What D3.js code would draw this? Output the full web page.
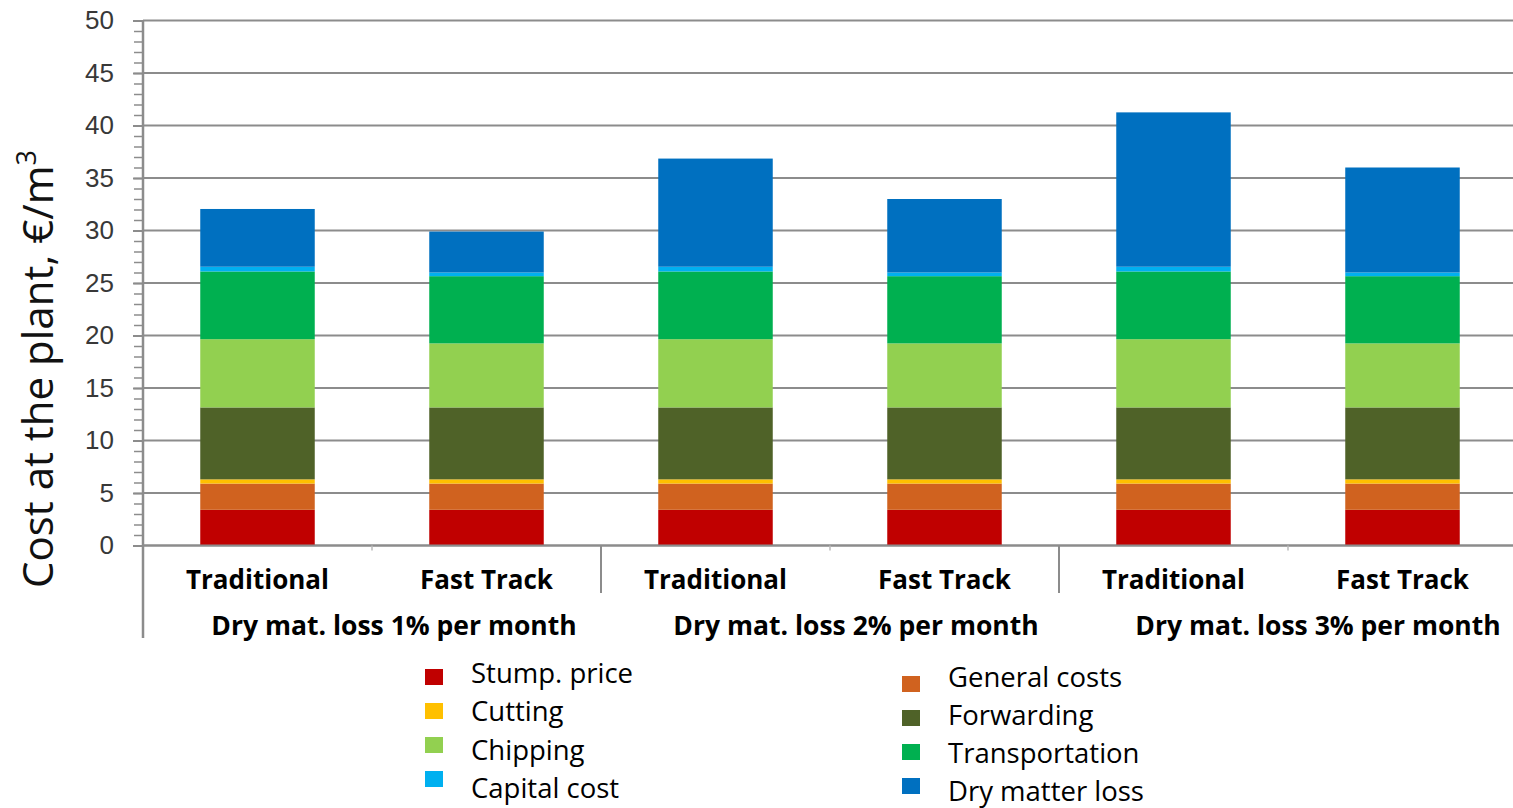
<!DOCTYPE html>
<html>
<head>
<meta charset="utf-8">
<script src="https://cdnjs.cloudflare.com/ajax/libs/d3/7.8.5/d3.min.js"></script>
<style>
  body { margin: 0; background: #fff; }
  svg { display: block; }
</style>
</head>
<body>
<script>
// categories (two scenarios per dry matter loss group)
var groups = ["Dry mat. loss 1% per month", "Dry mat. loss 2% per month", "Dry mat. loss 3% per month"];
var methods = ["Traditional", "Fast Track"];

// cost components, bottom to top of each stack
var components = ["Stump. price", "General costs", "Cutting", "Forwarding", "Chipping", "Transportation", "Capital cost", "Dry matter loss"];
var colors = ["#c00000", "#d0621f", "#ffc000", "#4f6228", "#92d050", "#00b050", "#00b0f0", "#0070c0"];

// values in €/m3, one entry per bar: T1, FT1, T2, FT2, T3, FT3
var stumpPrice     = [3.4, 3.4, 3.4, 3.4, 3.4, 3.4];
var generalCosts   = [2.5, 2.5, 2.5, 2.5, 2.5, 2.5];
var cutting        = [0.4, 0.4, 0.4, 0.4, 0.4, 0.4];
var forwarding     = [6.85, 6.85, 6.85, 6.85, 6.85, 6.85];
var chipping       = [6.5, 6.1, 6.5, 6.1, 6.5, 6.1];
var transportation = [6.45, 6.4, 6.45, 6.4, 6.45, 6.4];
var capitalCost    = [0.45, 0.35, 0.45, 0.35, 0.45, 0.35];
var dryMatterLoss  = [5.5, 3.9, 10.3, 7.0, 14.7, 10.0];

// legend layout: two columns of four
var legendCol1 = ["Stump. price", "Cutting", "Chipping", "Capital cost"];
var legendCol2 = ["General costs", "Forwarding", "Transportation", "Dry matter loss"];

var yTicks = [0, 5, 10, 15, 20, 25, 30, 35, 40, 45, 50];

var width = 1513, height = 808;
var series = [stumpPrice, generalCosts, cutting, forwarding, chipping, transportation, capitalCost, dryMatterLoss];

// build table rows for d3.stack
var bars = [];
groups.forEach(function(g, gi) {
  methods.forEach(function(m, mi) {
    var i = gi * methods.length + mi;
    var row = { id: g + "|" + m, group: g, method: m };
    components.forEach(function(c, ci) { row[c] = series[ci][i]; });
    bars.push(row);
  });
});

var stacked = d3.stack().keys(components)(bars);

var svg = d3.select("body").append("svg")
    .attr("width", width)
    .attr("height", height);

var x = d3.scaleBand()
    .domain(bars.map(function(d) { return d.id; }))
    .range([143, 1517])
    .paddingInner(0.5)
    .paddingOuter(0.25);

var y = d3.scaleLinear()
    .domain([0, 50])
    .range([545.5, 20.5]);

var grey = "#8c8c8c";

// horizontal gridlines
svg.append("g")
  .selectAll("line")
  .data(yTicks)
  .enter().append("line")
    .attr("x1", 143)
    .attr("x2", width)
    .attr("y1", function(d) { return y(d); })
    .attr("y2", function(d) { return y(d); })
    .attr("stroke", grey)
    .attr("stroke-width", 2);

// minor ticks every 1 unit
var minorAxis = d3.axisLeft(y)
    .tickValues(d3.range(0, 51, 1))
    .tickSize(9)
    .tickFormat("");
var gMinor = svg.append("g")
    .attr("transform", "translate(143,0)")
    .call(minorAxis);
gMinor.select(".domain").remove();
gMinor.selectAll("line").attr("stroke", grey).attr("stroke-width", 1.5);

// y axis with labels
var yAxis = d3.axisLeft(y)
    .tickValues(yTicks)
    .tickSize(10)
    .tickPadding(19);
var gY = svg.append("g")
    .attr("transform", "translate(143,0)")
    .call(yAxis);
gY.select(".domain").remove();
gY.selectAll("line").attr("stroke", grey).attr("stroke-width", 2);
gY.selectAll("text")
    .attr("font-family", "Liberation Sans, Arial, sans-serif")
    .attr("font-size", 26)
    .attr("fill", "#383838");

// bars
svg.append("g")
  .selectAll("g")
  .data(stacked)
  .enter().append("g")
    .attr("fill", function(d, i) { return colors[i]; })
  .selectAll("rect")
  .data(function(d) { return d; })
  .enter().append("rect")
    .attr("x", function(d) { return x(d.data.id); })
    .attr("width", x.bandwidth())
    .attr("y", function(d) { return y(d[1]); })
    .attr("height", function(d) { return y(d[0]) - y(d[1]); });

// x axis line and vertical axis line
svg.append("line")
    .attr("x1", 143).attr("x2", width)
    .attr("y1", y(0)).attr("y2", y(0))
    .attr("stroke", grey).attr("stroke-width", 2);

svg.append("line")
    .attr("x1", 143).attr("x2", 143)
    .attr("y1", y(50)).attr("y2", 638)
    .attr("stroke", grey).attr("stroke-width", 2.5);

// small ticks between categories, longer separators between groups
var step = x.step();
bars.forEach(function(d, i) {
  if (i === 0) return;
  var bx = x(d.id) - step * x.paddingInner() / 2;
  var isGroupStart = (i % methods.length === 0);
  svg.append("line")
      .attr("x1", bx).attr("x2", bx)
      .attr("y1", y(0))
      .attr("y2", isGroupStart ? 593 : y(0) + 5)
      .attr("stroke", isGroupStart ? grey : "#bbb")
      .attr("stroke-width", isGroupStart ? 2 : 1.5);
});

// category labels
svg.append("g")
  .selectAll("text")
  .data(bars)
  .enter().append("text")
    .attr("x", function(d) { return x(d.id) + x.bandwidth() / 2; })
    .attr("y", 589)
    .attr("text-anchor", "middle")
    .attr("font-family", "Open Sans, sans-serif")
    .attr("font-weight", "bold")
    .attr("font-size", 26)
    .attr("fill", "#000")
    .text(function(d) { return d.method; });

// group labels
svg.append("g")
  .selectAll("text")
  .data(groups)
  .enter().append("text")
    .attr("x", function(g, gi) {
      var first = bars[gi * methods.length], last = bars[gi * methods.length + methods.length - 1];
      return (x(first.id) + x(last.id) + x.bandwidth()) / 2 + 22 + gi * 4;
    })
    .attr("y", 635)
    .attr("text-anchor", "middle")
    .attr("font-family", "Open Sans, sans-serif")
    .attr("font-weight", "bold")
    .attr("font-size", 26.5)
    .attr("fill", "#000")
    .text(function(d) { return d; });

// y axis title
var yTitle = svg.append("text")
    .attr("transform", "translate(53,369) rotate(-90)")
    .attr("text-anchor", "middle")
    .attr("font-family", "Open Sans, sans-serif")
    .attr("font-size", 42)
    .attr("fill", "#111");
yTitle.append("tspan").text("Cost at the plant, €/m");
yTitle.append("tspan").attr("font-size", 27).attr("dy", -17).text("3");

// legend
function drawLegend(items, swX, txtX, swTop, swStep, txtBase, txtStep) {
  var g = svg.append("g");
  items.forEach(function(name, i) {
    var ci = components.indexOf(name);
    g.append("rect")
        .attr("x", swX)
        .attr("y", swTop + i * swStep)
        .attr("width", 18)
        .attr("height", 16)
        .attr("fill", colors[ci]);
    g.append("text")
        .attr("x", txtX)
        .attr("y", txtBase + i * txtStep)
        .attr("font-family", "Open Sans, sans-serif")
        .attr("font-size", 27.5)
        .attr("fill", "#000")
        .text(name);
  });
}
drawLegend(legendCol1, 425, 471, 669, 34, 683, 38.3);
drawLegend(legendCol2, 902, 948, 676, 34, 687, 38);
</script>
</body>
</html>
